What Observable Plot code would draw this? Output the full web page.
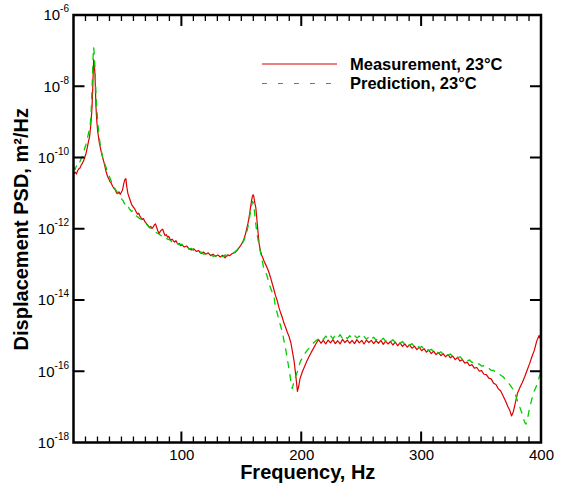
<!DOCTYPE html>
<html><head><meta charset="utf-8">
<script src="https://cdn.jsdelivr.net/npm/d3@7"></script>
<script src="https://cdn.jsdelivr.net/npm/@observablehq/plot@0.6"></script>
<style>
body{margin:0;background:#fff;}
</style></head><body><div id="chart"></div>
<script>
const measurement = [
[10,-10.44],[11,-10.40],[12,-10.45],[13,-10.36],[14,-10.30],[15,-10.28],[16,-10.20],[17,-10.15],[18,-10.08],[19,-9.98],
[20,-9.88],[21,-9.72],[22,-9.55],[23,-9.40],[24,-9.08],[25,-8.60],[25.6,-8.10],[26,-7.60],[26.4,-7.24],[26.8,-7.35],
[27.5,-7.65],[28.3,-8.55],[29,-8.95],[29.7,-9.23],[31,-9.55],[32.5,-9.79],[34,-10.0],[35.3,-10.16],[36.5,-10.35],[38,-10.52],
[39,-10.58],[40,-10.66],[41,-10.70],[42.3,-10.80],[43.5,-10.86],[44.5,-10.90],[45.5,-10.98],[46.5,-11.00],[47.5,-10.95],[48.5,-11.02],
[49.5,-10.96],[50.5,-10.90],[51.5,-10.72],[52.5,-10.60],[53.3,-10.58],[54,-10.80],[55,-11.00],[56,-11.10],[57,-11.20],[58,-11.30],
[59,-11.35],[60,-11.40],[61,-11.45],[62,-11.52],[63,-11.58],[64,-11.55],[65,-11.63],[66,-11.68],[67,-11.72],[68,-11.70],
[69,-11.78],[70,-11.82],[71,-11.86],[72,-11.90],[73,-11.96],[74,-11.92],[75,-11.98],[76,-11.94],[77,-11.88],[78,-11.85],
[79,-11.95],[80,-12.05],[81,-12.12],[82,-12.06],[83,-12.02],[84,-12.00],[85,-12.10],[86,-12.18],[87,-12.15],[88,-12.22],
[89,-12.20],[90,-12.27],[91,-12.30],[92,-12.28],[93,-12.33],[94,-12.36],[95,-12.32],[96,-12.38],[97,-12.42],[98,-12.40],
[99,-12.46],[100,-12.44],[102,-12.50],[104,-12.47],[106,-12.55],[108,-12.58],[110,-12.55],[112,-12.62],[114,-12.60],[116,-12.68],
[118,-12.64],[120,-12.70],[122,-12.66],[124,-12.74],[126,-12.70],[128,-12.76],[130,-12.72],[132,-12.78],[134,-12.73],[136,-12.80],
[138,-12.72],[140,-12.74],[142,-12.68],[144,-12.66],[146,-12.60],[148,-12.50],[149,-12.46],[150,-12.40],[151,-12.34],[152,-12.25],
[153,-12.14],[154,-12.00],[155,-11.85],[156,-11.68],[157,-11.45],[158,-11.22],[158.8,-11.08],[159.4,-11.03],[160,-11.08],[160.8,-11.25],
[161.7,-11.40],[162.5,-11.70],[163.3,-12.00],[164.4,-12.40],[165.5,-12.60],[166.5,-12.72],[167.5,-12.80],[168.6,-12.90],[170,-13.00],[171.4,-13.10],
[172.5,-13.20],[174,-13.36],[175.6,-13.55],[177,-13.72],[178,-13.85],[179.5,-14.00],[181,-14.20],[182.5,-14.36],[184,-14.50],[185,-14.62],
[186.5,-14.75],[188,-14.90],[189.5,-15.02],[191,-15.20],[192.3,-15.45],[193.6,-15.70],[195,-16.10],[196.4,-16.55],[197.5,-16.40],[198.5,-16.20],
[200.5,-16.00],[202,-15.88],[204,-15.72],[206,-15.58],[208,-15.45],[210,-15.33],[211.7,-15.22],[213,-15.15],[214,-15.10],[216,-15.20],
[218,-15.12],[220,-15.22],[222,-15.11],[224,-15.19],[226,-15.10],[228,-15.21],[230,-15.13],[232,-15.22],[234,-15.09],[236,-15.18],
[238,-15.11],[240,-15.20],[242,-15.12],[244,-15.21],[246,-15.10],[248,-15.19],[250,-15.12],[252,-15.22],[254,-15.11],[256,-15.18],
[258,-15.12],[260,-15.21],[262,-15.13],[264,-15.20],[266,-15.12],[268,-15.23],[270,-15.14],[272,-15.22],[274,-15.15],[276,-15.25],
[278,-15.17],[280,-15.27],[282,-15.19],[284,-15.29],[286,-15.22],[288,-15.31],[290,-15.25],[292,-15.34],[294,-15.28],[296,-15.38],
[298,-15.31],[300,-15.41],[302,-15.35],[304,-15.45],[306,-15.39],[308,-15.49],[310,-15.42],[312,-15.52],[314,-15.46],[316,-15.55],
[318,-15.49],[320,-15.58],[322,-15.52],[324,-15.61],[326,-15.56],[328,-15.66],[330,-15.60],[332,-15.70],[334,-15.66],[336,-15.76],
[338,-15.73],[340,-15.83],[342,-15.80],[344,-15.90],[346,-15.88],[348,-15.98],[350,-15.97],[352,-16.07],[354,-16.08],[356,-16.18],
[358,-16.20],[360,-16.32],[362,-16.36],[364,-16.48],[366,-16.54],[368,-16.68],[370,-16.82],[372,-16.98],[373.5,-17.08],[375,-17.24],
[376.5,-17.12],[378,-16.90],[380,-16.60],[382,-16.44],[384,-16.30],[386,-16.14],[388,-15.96],[390,-15.78],[392,-15.58],[394,-15.40],
[396,-15.14],[398,-14.98],[399,-15.06],[400,-15.16]
];
const prediction = [
[10,-10.27],[11,-10.32],[12,-10.22],[13,-10.25],[14,-10.15],[15,-10.10],[16,-10.02],[17,-9.95],[18,-9.85],[19,-9.72],
[20,-9.62],[21,-9.48],[22,-9.32],[23,-9.15],[23.6,-9.04],[24.3,-8.70],[25,-8.10],[25.6,-7.50],[26,-7.10],[26.4,-6.89],
[26.8,-7.05],[27.5,-7.45],[28.2,-8.05],[28.9,-8.57],[30,-9.05],[31,-9.42],[32.5,-9.75],[33.9,-9.98],[35.3,-10.12],[36.7,-10.26],
[38,-10.40],[39.5,-10.52],[40.8,-10.63],[42,-10.72],[43.5,-10.82],[45,-10.91],[46.5,-10.98],[48,-11.05],[49,-11.10],[50,-11.16],
[51,-11.20],[52,-11.28],[53,-11.30],[54,-11.36],[55,-11.33],[56,-11.42],[57,-11.46],[58,-11.50],[59,-11.48],[60,-11.56],
[62,-11.62],[64,-11.68],[66,-11.72],[68,-11.80],[70,-11.84],[72,-11.92],[74,-11.96],[76,-12.02],[78,-12.08],[80,-12.12],
[82,-12.16],[84,-12.22],[86,-12.20],[88,-12.28],[90,-12.30],[92,-12.36],[94,-12.34],[96,-12.40],[98,-12.44],[100,-12.42],
[102,-12.50],[104,-12.52],[106,-12.56],[108,-12.54],[110,-12.60],[112,-12.62],[114,-12.66],[116,-12.64],[118,-12.70],[120,-12.68],
[122,-12.72],[124,-12.70],[126,-12.76],[128,-12.74],[130,-12.78],[132,-12.74],[134,-12.77],[136,-12.72],[138,-12.75],[140,-12.70],
[142,-12.67],[144,-12.64],[146,-12.58],[148,-12.52],[150,-12.42],[152,-12.30],[154,-12.10],[155,-11.95],[156,-11.78],[157,-11.55],
[158,-11.35],[159,-11.22],[159.6,-11.25],[160.3,-11.40],[161,-11.65],[162,-11.95],[163,-12.20],[164,-12.38],[165,-12.55],[166,-12.72],
[167,-12.88],[168,-13.05],[169.5,-13.18],[171,-13.30],[172.5,-13.50],[174,-13.65],[175.5,-13.78],[177,-13.92],[178,-14.18],[179.5,-14.35],
[181,-14.55],[182.5,-14.73],[184,-14.92],[185,-15.10],[186.5,-15.35],[188,-15.65],[189,-15.85],[190,-16.05],[191,-16.30],[192,-16.47],
[193,-16.35],[194,-16.22],[195,-16.12],[196.5,-15.98],[198,-15.80],[199,-15.70],[201,-15.58],[203,-15.47],[205,-15.38],[207.5,-15.28],
[210,-15.18],[213,-15.10],[216,-15.02],[218,-15.10],[220,-15.00],[222,-15.08],[224,-14.99],[226,-15.07],[228,-14.97],[230,-15.05],
[232,-14.96],[234,-15.06],[236,-14.98],[238,-15.07],[240,-14.99],[242,-15.06],[244,-14.98],[246,-15.05],[248,-15.00],[250,-15.08],
[252,-15.01],[254,-15.09],[256,-15.02],[258,-15.10],[260,-15.03],[262,-15.11],[264,-15.05],[266,-15.12],[268,-15.06],[270,-15.14],
[272,-15.08],[274,-15.16],[276,-15.10],[278,-15.18],[280,-15.12],[282,-15.20],[284,-15.15],[286,-15.23],[288,-15.18],[290,-15.26],
[292,-15.21],[294,-15.30],[296,-15.25],[298,-15.33],[300,-15.29],[302,-15.37],[304,-15.33],[306,-15.41],[308,-15.37],[310,-15.44],
[312,-15.40],[314,-15.48],[316,-15.44],[318,-15.51],[320,-15.47],[322,-15.54],[324,-15.50],[326,-15.57],[328,-15.53],[330,-15.60],
[332,-15.58],[334,-15.65],[336,-15.62],[338,-15.69],[340,-15.67],[342,-15.74],[344,-15.72],[346,-15.79],[348,-15.78],[350,-15.84],
[352,-15.83],[354,-15.90],[356,-15.90],[358,-15.96],[360,-15.96],[362,-16.03],[364,-16.04],[366,-16.10],[368,-16.14],[370,-16.22],
[372,-16.29],[374,-16.38],[376,-16.48],[378,-16.62],[380,-16.82],[382,-17.00],[384,-17.20],[386,-17.42],[387,-17.47],[388,-17.38],
[390,-17.02],[392,-16.76],[393,-16.62],[395,-16.46],[396,-16.38],[398,-16.16],[400,-15.96]
];
const xMajorTicks = [100, 200, 300, 400];
const xMinorTicks = [20,30,40,50,60,70,80,90,110,120,130,140,150,160,170,180,190,210,220,230,240,250,260,270,280,290,310,320,330,340,350,360,370,380,390];
const yTickExponents = [-6, -8, -10, -12, -14, -16, -18];
const seriesNames = ["Measurement, 23°C", "Prediction, 23°C"];
const seriesColors = ["#dd0000", "#00cc00"];
const xLabel = "Frequency, Hz";
const yLabel = "Displacement PSD, m²/Hz";

const W = 561, H = 484;
const mL = 73.5, mR = 20, mT = 15, mB = 41.5;
const FONT = '"Liberation Sans", Arial, sans-serif';

const toRow = ([f, e]) => ({f, psd: Math.pow(10, e)});
const measRows = measurement.map(toRow);
const predRows = prediction.map(toRow);
const yTickVals = yTickExponents.map(e => Math.pow(10, e));
const yInner = yTickVals.slice(1, -1);

const chart = Plot.plot({
  width: W, height: H,
  marginLeft: mL, marginRight: mR, marginTop: mT, marginBottom: mB,
  x: {domain: [10, 400]},
  y: {type: "log", domain: [1e-18, 1e-6]},
  marks: [
    Plot.line(measRows, {x: "f", y: "psd", stroke: seriesColors[0], strokeWidth: 1.2}),
    Plot.line(predRows, {x: "f", y: "psd", stroke: seriesColors[1], strokeWidth: 1.3, strokeDasharray: "6,7"}),
    Plot.axisX({ticks: xMajorTicks, tickSize: 0, tickPadding: 6, tickFormat: d => String(d),
      label: xLabel, labelAnchor: "center", labelOffset: 36, labelArrow: "none"}),
    Plot.axisY({ticks: yTickVals, tickSize: 0, tickPadding: 5,
      tickFormat: d => "10|" + Math.round(Math.log10(d)),
      label: yLabel, labelAnchor: "center", labelOffset: 60, labelArrow: "none"})
  ]
});

const svg = d3.select(chart).attr("font-family", FONT).attr("font-size", 15);
svg.selectAll('[aria-label="x-axis tick label"], [aria-label="y-axis tick label"]').attr("font-size", 15);
svg.selectAll('[aria-label="x-axis label"], [aria-label="y-axis label"]').attr("font-size", 20).attr("font-weight", "bold");
svg.selectAll('[aria-label="x-axis label"] text, [aria-label="y-axis label"] text').attr("font-size", 20).attr("font-weight", "bold");
svg.selectAll('g[aria-label="y-axis tick label"] text').each(function() {
  const t = this.textContent;
  if (!t.includes("|")) return;
  const [base, exp] = t.split("|");
  const el = d3.select(this);
  el.text(null);
  el.append("tspan").text(base);
  el.append("tspan").attr("dy", "-8").attr("font-size", "10px").text(exp);
});

// inward ticks and box frame, positioned through Plot's own scales
const sx = chart.scale("x"), sy = chart.scale("y");
const X0 = sx.range[0], X1 = sx.range[1];
const Y0 = Math.max(...sy.range), Y1 = Math.min(...sy.range);
const ax = svg.append("g").attr("fill", "none").attr("stroke", "#000");
let p = "";
xMinorTicks.forEach(v => { const x = sx.apply(v); p += `M${x},${Y0}V${Y0 - 6}M${x},${Y1}V${Y1 + 6}`; });
ax.append("path").attr("d", p).attr("stroke-width", 1.3);
let q = "";
xMajorTicks.forEach(v => { const x = sx.apply(v); q += `M${x},${Y0}V${Y0 - 11}M${x},${Y1}V${Y1 + 11}`; });
yInner.forEach(v => { const y = sy.apply(v); q += `M${X0},${y}H${X0 + 11}M${X1},${y}H${X1 - 11}`; });
ax.append("path").attr("d", q).attr("stroke-width", 2);
ax.append("path").attr("d", `M${X0},${Y1}H${X1}V${Y0}H${X0}Z`).attr("stroke-width", 2.5);

const lg = svg.append("g").attr("font-family", FONT)
  .attr("font-weight", "bold").attr("font-size", "16.5px").attr("text-anchor", "start");
const rows = [{y: 64, dash: null}, {y: 83.5, dash: "5,11"}];
rows.forEach((r, i) => {
  lg.append("line").attr("x1", 262).attr("x2", 337).attr("y1", r.y).attr("y2", r.y)
    .attr("stroke", seriesColors[i]).attr("stroke-width", 1.2)
    .attr("stroke-dasharray", r.dash);
  lg.append("text").attr("x", 350).attr("y", r.y + 5.5).attr("fill", "#000").text(seriesNames[i]);
});
document.getElementById("chart").appendChild(chart);
</script>
</body></html>
